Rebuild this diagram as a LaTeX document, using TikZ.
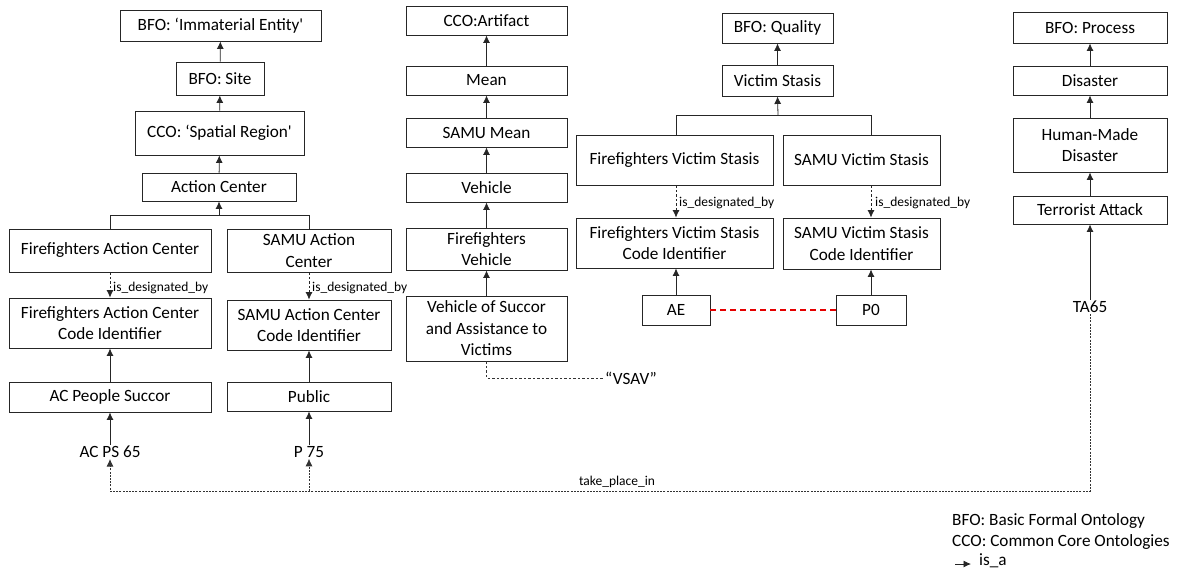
\documentclass[tikz,border=0pt]{standalone}
\usepackage{fontspec}
\setmainfont{Carlito}
\usetikzlibrary{arrows.meta}

\newcommand\bxfont{\fontsize{17.2}{21.5}\selectfont}
\newcommand\lblfont{\fontsize{13.5}{15}\selectfont}

\tikzset{
  tip/.style={-{Latex[length=7.5pt,width=7pt]}},
  box/.style={draw=black!85, line width=0.9pt, inner sep=0pt, align=center, font=\bxfont},
  isa/.style={tip, line width=0.8pt, black!85},
  desig/.style={isa, dash pattern=on 2.5pt off 2pt},
  place/.style={tip, line width=0.7pt, black!80, dash pattern=on 2pt off 1.2pt},
  lbl/.style={font=\lblfont, inner sep=0pt},
  plain/.style={font=\bxfont, inner sep=1pt},
}

% \bx{name}{x1}{y1}{x2}{y2}{text}: box spanning the given corners
\newcommand\bx[6]{%
  \node[box, minimum width={(#4-#2)*1pt}, minimum height={(#5-#3)*1pt}]
    (#1) at ({(#2+#4)/2},{(#3+#5)/2}) {#6};}

\begin{document}
\begin{tikzpicture}[x=1pt, y=-1pt]
\useasboundingbox (0,0) rectangle (1197,576);

% --- spatial branch ---
\bx{ie}{120}{10}{321}{41}{BFO: ‘Immaterial Entity\textquotesingle}
\bx{site}{176}{62}{264}{95}{BFO: Site}
\bx{sr}{135}{111}{304}{155}{CCO: ‘Spatial Region\textquotesingle}
\bx{ac}{142}{173}{296}{201}{Action Center}
\bx{ffac}{9}{229}{211}{272}{Firefighters Action Center}
\bx{sac}{227}{229}{391}{272}{SAMU Action\\Center}
\bx{ffacci}{9}{298}{211}{348}{Firefighters Action Center\\Code Identifier}
\bx{sacci}{227}{300}{391}{350}{SAMU Action Center\\Code Identifier}
\bx{acps}{9}{382}{211}{412}{AC People Succor}
\bx{pub}{227}{382}{391}{411}{Public}
\node[plain] (acps65) at (110,452) {AC PS 65};
\node[plain] (p75) at (309,452) {P 75};

\draw[isa] (site) -- (ie);
\draw[isa] (sr) -- (site);
\draw[isa] (ac) -- (sr);
\coordinate (jac) at (219,215);
\draw[line width=0.8pt, black!85] (ffac.north) |- (sac.north |- jac) -- (sac.north);
\draw[isa] (jac) -- (ac.south);
\draw[desig] (ffac) -- (ffacci);
\draw[desig] (sac) -- (sacci);
\node[lbl, anchor=west] at (113,288) {is\_designated\_by};
\node[lbl, anchor=west] at (312,288) {is\_designated\_by};
\draw[isa] (acps) -- (ffacci);
\draw[isa] (pub) -- (sacci);
\draw[isa] (acps65) -- (acps);
\draw[isa] (p75) -- (pub);

% --- artifact branch ---
\bx{art}{406}{6}{567}{35}{CCO:Artifact}
\bx{mean}{406}{66}{567}{95}{Mean}
\bx{smean}{406}{118}{567}{147}{SAMU Mean}
\bx{veh}{406}{173}{567}{202}{Vehicle}
\bx{ffveh}{406}{228}{567}{270}{Firefighters\\Vehicle}
\bx{vsav}{406}{296}{567}{361}{Vehicle of Succor\\and Assistance to\\Victims}
\node[plain, anchor=west] (vsavname) at (604,378) {“VSAV”};
\draw[isa] (mean) -- (art);
\draw[isa] (smean) -- (mean);
\draw[isa] (veh) -- (smean);
\draw[isa] (ffveh) -- (veh);
\draw[isa] (vsav) -- (ffveh);
\draw[line width=0.7pt, black!80, dash pattern=on 2.5pt off 2pt] (vsav.south) |- (vsavname.west);

% --- quality branch ---
\bx{qual}{722}{13}{833}{43}{BFO: Quality}
\bx{vs}{722}{65}{833}{96}{Victim Stasis}
\bx{ffvs}{576}{135}{773}{185}{Firefighters Victim Stasis}
\bx{svs}{783}{135}{940}{185}{SAMU Victim Stasis}
\bx{ffvsci}{576}{218}{773}{268}{Firefighters Victim Stasis\\Code Identifier}
\bx{svsci}{783}{218}{940}{269}{SAMU Victim Stasis\\Code Identifier}
\bx{ae}{642}{295}{710}{325}{AE}
\bx{p0}{836}{295}{906}{325}{P0}
\draw[isa] (vs) -- (qual);
\coordinate (jvs) at (778,115);
\draw[line width=0.8pt, black!85] (ae.north |- ffvs.north) |- (p0.north |- jvs) -- (p0.north |- svs.north);
\draw[isa] (jvs) -- (vs.south);
\draw[desig] (ae.north |- ffvs.south) -- (ae.north |- ffvsci.north);
\draw[desig] (p0.north |- svs.south) -- (p0.north |- svsci.north);
\node[lbl, anchor=west] at (679,203) {is\_designated\_by};
\node[lbl, anchor=west] at (875,203) {is\_designated\_by};
\draw[isa] (ae) -- (ae |- ffvsci.south);
\draw[isa] (p0) -- (p0 |- svsci.south);
\draw[red!90!black, line width=1.2pt, dash pattern=on 6pt off 4pt] (ae) -- (p0);

% --- process branch ---
\bx{proc}{1013}{12}{1167}{43}{BFO: Process}
\bx{dis}{1013}{66}{1167}{95}{Disaster}
\bx{hmd}{1013}{118}{1167}{172}{Human-Made\\Disaster}
\bx{ta}{1013}{196}{1167}{224}{Terrorist Attack}
\node[plain] (ta65) at (1090,307) {TA65};
\draw[isa] (dis) -- (proc);
\draw[isa] (hmd) -- (dis);
\draw[isa] (ta) -- (hmd);
\draw[isa] (ta65) -- (ta);

% --- take_place_in links ---
\coordinate (tpl) at (1090,491);
\draw[place] (ta65.south) -- (tpl) -- (acps65.south |- tpl) -- (acps65.south);
\draw[place] (p75.south |- tpl) -- (p75.south);
\node[lbl] at (617,482) {take\_place\_in};

% --- legend ---
\node[plain, anchor=west, inner sep=0pt] at (952,521) {BFO: Basic Formal Ontology};
\node[plain, anchor=west, inner sep=0pt] at (952,542) {CCO: Common Core Ontologies};
\coordinate (lga) at (955,564);
\coordinate (lgb) at (971,564);
\draw[isa] (lga) -- (lgb);
\node[plain, anchor=west, inner sep=0pt] at (979,561) {is\_a};
\end{tikzpicture}
\end{document}
